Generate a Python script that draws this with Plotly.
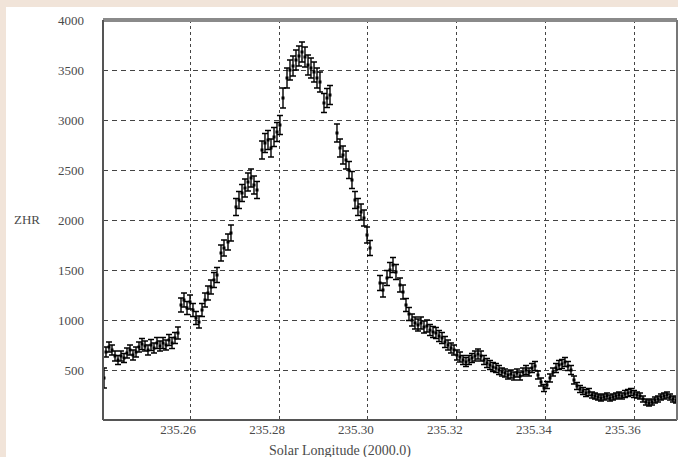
import plotly.graph_objects as go

# Solar longitude (J2000.0) of each ZHR estimate
solar_longitude = [
    235.24067, 235.24112, 235.24180, 235.24247, 235.24315, 235.24382, 235.24449, 235.24517,
    235.24584, 235.24652, 235.24719, 235.24787, 235.24854, 235.24921, 235.24989, 235.25056,
    235.25124, 235.25191, 235.25258, 235.25326, 235.25393, 235.25461, 235.25528, 235.25596,
    235.25663, 235.25730, 235.25798, 235.25865, 235.25933, 235.26000, 235.26067, 235.26135,
    235.26202, 235.26270, 235.26337, 235.26404, 235.26472, 235.26539, 235.26607, 235.26697,
    235.26764, 235.26854, 235.26921, 235.27034, 235.27101, 235.27169, 235.27236, 235.27303,
    235.27371, 235.27438, 235.27506, 235.27618, 235.27685, 235.27753, 235.27820, 235.27888,
    235.27955, 235.28022, 235.28090, 235.28180, 235.28247, 235.28315, 235.28382, 235.28449,
    235.28517, 235.28584, 235.28652, 235.28719, 235.28787, 235.28854, 235.28921, 235.29011,
    235.29079, 235.29146, 235.29303, 235.29371, 235.29438, 235.29506, 235.29573, 235.29640,
    235.29708, 235.29775, 235.29843, 235.29910, 235.29978, 235.30045, 235.30270, 235.30337,
    235.30427, 235.30494, 235.30562, 235.30629, 235.30719, 235.30787, 235.30854, 235.30921,
    235.30989, 235.31056, 235.31124, 235.31191, 235.31258, 235.31326, 235.31393, 235.31461,
    235.31528, 235.31596, 235.31663, 235.31730, 235.31798, 235.31865, 235.31933, 235.32000,
    235.32067, 235.32135, 235.32202, 235.32270, 235.32337, 235.32404, 235.32472, 235.32539,
    235.32607, 235.32674, 235.32742, 235.32809, 235.32876, 235.32944, 235.33011, 235.33079,
    235.33146, 235.33213, 235.33281, 235.33348, 235.33416, 235.33483, 235.33551, 235.33618,
    235.33685, 235.33753, 235.33820, 235.33888, 235.33955, 235.34022, 235.34090, 235.34157,
    235.34225, 235.34292, 235.34360, 235.34427, 235.34494, 235.34562, 235.34629, 235.34697,
    235.34764, 235.34831, 235.34899, 235.34966, 235.35034, 235.35101, 235.35169, 235.35236,
    235.35303, 235.35371, 235.35438, 235.35506, 235.35573, 235.35640, 235.35708, 235.35775,
    235.35843, 235.35910, 235.35978, 235.36045, 235.36112, 235.36180, 235.36247, 235.36315,
    235.36382, 235.36449, 235.36517, 235.36584, 235.36652, 235.36719, 235.36787, 235.36854,
    235.36921,
]

zhr = [
    420, 680, 730, 700, 640, 600, 640, 620,
    670, 700, 650, 680, 730, 760, 740, 700,
    750, 720, 770, 740, 770, 750, 800, 770,
    820, 870, 1150, 1200, 1120, 1180, 1100, 1020,
    980, 1100, 1200, 1270, 1330, 1400, 1450, 1670,
    1720, 1780, 1870, 2130, 2200, 2270, 2320, 2380,
    2420, 2350, 2300, 2700, 2770, 2800, 2720, 2830,
    2880, 2950, 3220, 3420, 3500, 3540, 3600, 3640,
    3680, 3630, 3550, 3520, 3480, 3420, 3380, 3170,
    3220, 3250, 2870, 2720, 2650, 2600, 2500, 2400,
    2200, 2130, 2080, 2020, 1850, 1720, 1370, 1300,
    1420, 1500, 1550, 1480, 1350, 1280, 1150, 1060,
    1000, 970, 950, 970, 930, 940, 900, 880,
    870, 840, 820, 780, 750, 720, 700, 650,
    630, 600, 580, 600, 620, 640, 660, 640,
    600, 570, 550, 530, 520, 500, 480, 470,
    450, 460, 440, 470, 440, 480, 500, 480,
    520, 540, 450, 380, 320, 350, 420, 480,
    520, 550, 560, 580, 540, 500, 400, 340,
    310, 290, 270, 280, 250, 240, 230, 220,
    230, 240, 220, 230, 240, 250, 240, 260,
    270, 280, 260, 250, 240, 210, 180, 170,
    180, 200, 210, 230, 240, 250, 230, 210,
    200,
]

zhr_error = [
    100, 50, 50, 50, 50, 45, 50, 45,
    50, 50, 50, 50, 50, 55, 50, 50,
    55, 50, 55, 50, 55, 50, 55, 55,
    55, 60, 70, 70, 65, 70, 65, 65,
    60, 65, 70, 70, 70, 75, 75, 80,
    80, 80, 80, 85, 85, 85, 90, 90,
    90, 90, 85, 90, 95, 95, 90, 95,
    95, 95, 100, 100, 100, 100, 100, 100,
    100, 100, 100, 100, 100, 100, 100, 95,
    95, 95, 90, 90, 90, 90, 85, 85,
    85, 85, 80, 80, 80, 75, 75, 70,
    75, 75, 75, 75, 70, 70, 65, 65,
    60, 60, 60, 60, 60, 60, 55, 55,
    55, 55, 55, 55, 50, 50, 50, 50,
    50, 45, 45, 45, 45, 50, 50, 50,
    45, 45, 45, 45, 45, 45, 40, 40,
    40, 40, 40, 40, 40, 40, 45, 40,
    45, 45, 40, 40, 35, 35, 40, 40,
    45, 45, 45, 45, 45, 45, 40, 35,
    35, 35, 35, 35, 30, 30, 30, 30,
    30, 30, 30, 30, 30, 30, 30, 35,
    35, 35, 35, 30, 30, 30, 30, 30,
    30, 30, 30, 30, 30, 30, 30, 30,
    30,
]

x_tick_values = [235.26, 235.28, 235.30, 235.32, 235.34, 235.36]
x_tick_labels = ["235.26", "235.28", "235.30", "235.32", "235.34", "235.36"]
y_tick_values = [500, 1000, 1500, 2000, 2500, 3000, 3500, 4000]
y_tick_labels = ["500", "1000", "1500", "2000", "2500", "3000", "3500", "4000"]

FONT = "Liberation Serif"
TXT = "#4a4a4a"

fig = go.Figure()
fig.add_trace(go.Scatter(
    x=solar_longitude, y=zhr, mode="markers",
    marker=dict(color="black", size=3, symbol="square"),
    error_y=dict(type="data", array=zhr_error, visible=True,
                 color="black", thickness=1.4, width=3),
    showlegend=False, hoverinfo="x+y",
))

# white card on the beige page
fig.add_shape(type="rect", xref="paper", yref="paper",
              x0=-0.169, x1=1.01, y0=-0.2, y1=1.0325,
              fillcolor="white", line=dict(width=0), layer="below")
# frame
fig.add_shape(type="line", xref="paper", yref="paper", x0=0, x1=1, y0=1, y1=1,
              line=dict(color="#8a8a8a", width=4))
fig.add_shape(type="line", xref="paper", yref="paper", x0=0, x1=0, y0=0, y1=1,
              line=dict(color="#555555", width=2))
fig.add_shape(type="line", xref="paper", yref="paper", x0=0, x1=1, y0=0, y1=0,
              line=dict(color="#555555", width=2))
fig.add_shape(type="line", xref="paper", yref="paper", x0=1, x1=1, y0=0, y1=1,
              line=dict(color="#777777", width=2))

fig.add_annotation(text="Solar Longitude (2000.0)", xref="paper", yref="paper",
                   x=0.413, y=-0.0775, xanchor="center", yanchor="middle",
                   showarrow=False, font=dict(family=FONT, size=14, color=TXT))
fig.add_annotation(text="ZHR", xref="paper", yref="paper",
                   x=-0.1324, y=0.5025, xanchor="center", yanchor="middle",
                   showarrow=False, font=dict(family=FONT, size=13, color=TXT))

fig.update_layout(
    width=678, height=457,
    margin=dict(l=103, r=1, t=20, b=37),
    paper_bgcolor="#f1e4d9", plot_bgcolor="white",
    font=dict(family=FONT, size=13, color=TXT),
    xaxis=dict(
        range=[235.24045, 235.36944], tickmode="array",
        tickvals=x_tick_values, ticktext=x_tick_labels,
        showgrid=True, gridcolor="#444444", gridwidth=1.2, griddash="3px,3px",
        zeroline=False, showline=False, ticks="",
        ticklabelshift=-12, tickfont=dict(family=FONT, size=13, color=TXT),
    ),
    yaxis=dict(
        range=[0, 4000], tickmode="array",
        tickvals=y_tick_values, ticktext=y_tick_labels,
        showgrid=True, gridcolor="#444444", gridwidth=1.2, griddash="5px,4px",
        zeroline=False, showline=False, ticks="",
        ticklabelstandoff=18, tickfont=dict(family=FONT, size=13, color=TXT),
    ),
)

fig.write_html("out.html", config={"displayModeBar": False},
               post_script="document.body.style.margin='0';")
